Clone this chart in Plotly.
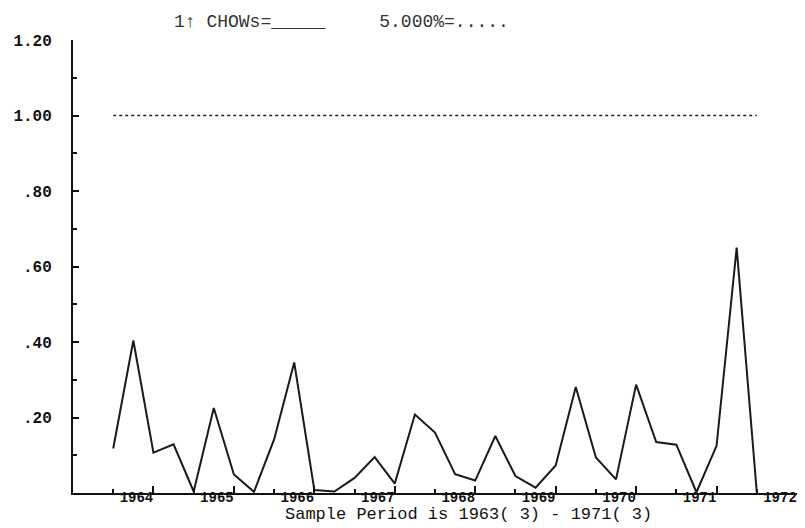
import pandas as pd
import plotly.graph_objects as go

# Quarterly sample 1963(3) - 1971(3)
periods = pd.period_range("1963Q3", "1971Q3", freq="Q")

# One-step-ahead Chow statistics, scaled by their 5% critical values
chow_1up = [
    0.118, 0.404, 0.107, 0.129, 0.004, 0.225, 0.049, 0.003,
    0.142, 0.346, 0.008, 0.004, 0.040, 0.095, 0.025, 0.208,
    0.160, 0.050, 0.033, 0.151, 0.045, 0.014, 0.073, 0.281,
    0.094, 0.036, 0.287, 0.135, 0.128, 0.002, 0.125, 0.650,
    0.002,
]
# 5% critical value after scaling
crit_5pct = [1.0] * len(chow_1up)

year_ticks = [1964, 1965, 1966, 1967, 1968, 1969, 1970, 1971, 1972]
y_ticks = [0.2, 0.4, 0.6, 0.8, 1.0, 1.2]
y_tick_text = [".20", ".40", ".60", ".80", "1.00", "1.20"]

x = [p.year + (p.quarter - 1) / 4 for p in periods]

MONO = "Liberation Mono, DejaVu Sans Mono, monospace"

fig = go.Figure()
fig.add_trace(go.Scatter(
    x=x, y=crit_5pct, mode="lines",
    line=dict(color="#222222", width=1.6, dash="dot"),
    showlegend=False, hoverinfo="skip",
))
fig.add_trace(go.Scatter(
    x=x, y=chow_1up, mode="lines",
    line=dict(color="#1a1a1a", width=2),
    showlegend=False,
))

fig.update_layout(
    width=805, height=528,
    margin=dict(l=73, r=8, t=40, b=35),
    paper_bgcolor="white", plot_bgcolor="white",
    font=dict(family=MONO, color="#111111"),
    xaxis=dict(
        range=[1963.0, 1972.0],
        tickmode="array", tickvals=year_ticks,
        ticktext=[str(v) for v in year_ticks],
        ticks="inside", ticklen=7, tickwidth=2, tickcolor="#111111",
        showline=True, linecolor="#111111", linewidth=2,
        showgrid=False, zeroline=False,
        tickfont=dict(family=MONO, size=14, color="#111111", weight="bold"),
        ticklabelshift=-17, ticklabelstandoff=-10,
        minor=dict(tickmode="array",
                   tickvals=[v - 0.5 for v in year_ticks],
                   ticks="inside", ticklen=4, tickwidth=2,
                   tickcolor="#111111", showgrid=False),
    ),
    yaxis=dict(
        range=[0, 1.2],
        tickmode="array", tickvals=y_ticks, ticktext=y_tick_text,
        ticks="inside", ticklen=6, tickwidth=2, tickcolor="#111111",
        showline=True, linecolor="#111111", linewidth=2,
        showgrid=False, zeroline=False,
        tickfont=dict(family=MONO, size=16, color="#111111", weight="bold"),
        ticklabelstandoff=16,
        minor=dict(tickmode="array",
                   tickvals=[0.1, 0.3, 0.5, 0.7, 0.9, 1.1],
                   ticks="inside", ticklen=4, tickwidth=2,
                   tickcolor="#111111", showgrid=False),
    ),
    annotations=[
        dict(text="1↑ CHOWs=_____     5.000%=.....",
             xref="paper", yref="paper", x=0.137, y=1.04,
             xanchor="left", yanchor="middle", showarrow=False,
             font=dict(family=MONO, size=18, color="#333333")),
        dict(text="Sample Period is 1963( 3) - 1971( 3)",
             xref="paper", yref="paper", x=0.546, y=-0.073,
             xanchor="center", yanchor="bottom", showarrow=False,
             font=dict(family=MONO, size=17, color="#111111")),
    ],
)

fig.write_html("out.html")
